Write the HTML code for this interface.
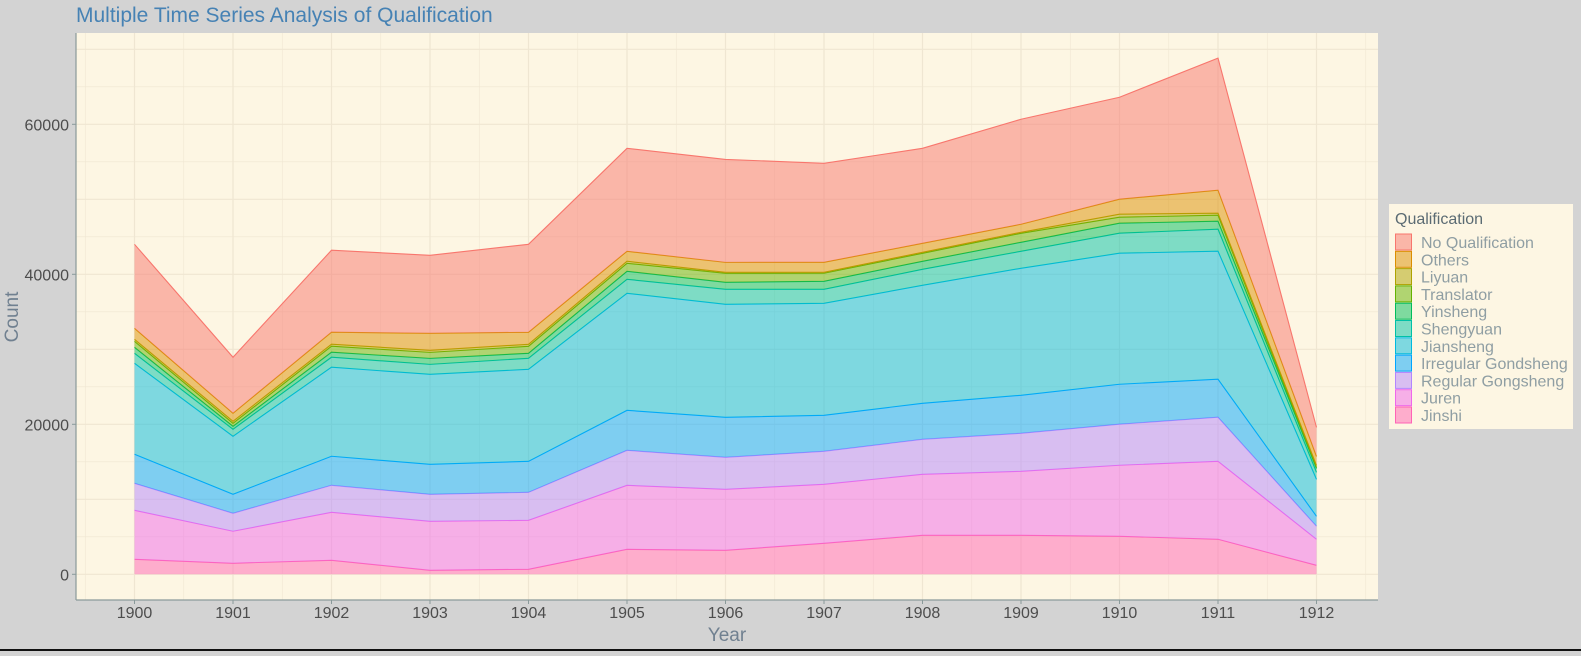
<!DOCTYPE html>
<html><head><meta charset="utf-8"><style>
html,body{margin:0;padding:0;background:#d3d3d3;}
body{width:1581px;height:651px;position:relative;overflow:hidden;font-family:"Liberation Sans",sans-serif;}
</style></head><body>
<svg id="chart" width="1581" height="651" xmlns="http://www.w3.org/2000/svg" font-family="Liberation Sans, sans-serif">
<rect x="0" y="0" width="1581" height="651" fill="#d3d3d3"/>
<line x1="0" y1="650" x2="1581" y2="650" stroke="#111" stroke-width="2"/>
<text x="76" y="22" font-size="21" fill="#4682b4">Multiple Time Series Analysis of Qualification</text>
<rect x="76" y="33" width="1302" height="567" fill="#fdf6e3"/>
<g id="grid"></g>
<g id="areas"></g>
<line x1="76" y1="33" x2="76" y2="600" stroke="#8a9a9a" stroke-width="1.2"/>
<line x1="76" y1="600" x2="1378" y2="600" stroke="#8a9a9a" stroke-width="1.2"/>
<g id="ticks"></g>
<text x="727" y="641" font-size="19" fill="#708090" text-anchor="middle">Year</text>
<text x="18" y="317" font-size="19" fill="#708090" text-anchor="middle" transform="rotate(-90 18 317)">Count</text>
<g id="legend">
<rect x="1389" y="204" width="184" height="225" fill="#fdf6e3"/>
<text x="1395" y="224" font-size="16" fill="#5b6b73">Qualification</text>
</g>
</svg>
<script>
const years = [1900,1901,1902,1903,1904,1905,1906,1907,1908,1909,1910,1911,1912];
const seriesNames = ["Jinshi","Juren","Regular Gongsheng","Irregular Gondsheng","Jiansheng","Shengyuan","Yinsheng","Translator","Liyuan","Others","No Qualification"];
const jinshi     = [2000,1470,1870,530,670,3330,3200,4130,5200,5200,5070,4670,1200];
const juren      = [6530,4270,6400,6530,6530,8530,8130,7870,8130,8530,9470,10400,3470];
const regular    = [3600,2400,3600,3600,3730,4670,4270,4400,4670,5070,5470,5870,1730];
const irregular  = [3870,2530,3870,4000,4130,5330,5330,4800,4800,5070,5330,5070,1330];
const jiansheng  = [12130,7730,11870,12000,12270,15600,15070,14930,15730,16930,17470,17070,4930];
const shengyuan  = [1330,930,1330,1330,1470,1870,2000,1870,2130,2270,2670,2930,930];
const yinsheng   = [800,400,670,800,670,1070,930,1070,1070,1200,1330,1070,530];
const translator = [800,400,800,800,930,1070,1200,1070,1070,1200,800,800,130];
const liyuan     = [270,270,270,270,270,270,130,130,130,130,400,270,270];
const others     = [1470,1070,1600,2270,1600,1330,1330,1330,1200,1070,2000,3070,1200];
const noQual     = [11200,7470,10930,10400,11730,13730,13730,13200,12670,14000,13600,17600,3870];
const yTicks = [0,20000,40000,60000];
const seriesValues = [jinshi,juren,regular,irregular,jiansheng,shengyuan,yinsheng,translator,liyuan,others,noQual];
const colors = ["#FF63B6","#EF67EB","#B385FF","#00A6FF","#00BADE","#00C1A7","#00BD5C","#64B200","#AEA200","#DB8E00","#F8766D"];
const NS="http://www.w3.org/2000/svg";
const xS = y => 134.5 + (y-1900)*98.5;
const yS = v => 574.3 - v*0.0075;
function mk(tag, attrs, parent){const e=document.createElementNS(NS,tag);for(const k in attrs)e.setAttribute(k,attrs[k]);parent.appendChild(e);return e;}
const grid=document.getElementById('grid');
for(let yr=1899.5; yr<=1912.5; yr+=0.5){
  const x=xS(yr); if(x<76||x>1378) continue;
  const g=mk('line',{x1:x,x2:x,y1:33,y2:600,stroke:'#efe6d2','stroke-width':Number.isInteger(yr)?1.2:0.6},grid);
  
  
}
for(let v=-5000; v<=70000; v+=5000){
  const y=yS(v); if(y<33||y>600) continue;
  const g=mk('line',{x1:76,x2:1378,y1:y,y2:y,stroke:'#efe6d2','stroke-width':v%10000===0?1.2:0.6},grid);
  
  
}
const areas=document.getElementById('areas');
let base=years.map(()=>0);
seriesValues.forEach((vals,i)=>{
  const top=base.map((b,j)=>b+vals[j]);
  let d='M'+years.map((yr,j)=>xS(yr)+','+yS(top[j])).join('L');
  for(let j=years.length-1;j>=0;j--) d+='L'+xS(years[j])+','+yS(base[j]);
  d+='Z';
  const p=mk('path',{d:d,fill:colors[i],'fill-opacity':0.5,stroke:'none'},areas);
  
  
  const l=mk('polyline',{points:years.map((yr,j)=>xS(yr)+','+yS(top[j])).join(' '),fill:'none',stroke:colors[i],'stroke-width':1.1},areas);
  
  
  base=top;
});
const ticks=document.getElementById('ticks');
yTicks.forEach(v=>{
  const y=yS(v);
  mk('line',{x1:72,x2:76,y1:y,y2:y,stroke:'#8a9a9a'},ticks);
  const t=mk('text',{x:69,y:y+6,'font-size':16,fill:'#4d4d4d','text-anchor':'end'},ticks);
  t.textContent=v;
  
  
});
years.forEach(yr=>{
  const x=xS(yr);
  mk('line',{x1:x,x2:x,y1:600,y2:604,stroke:'#8a9a9a'},ticks);
  const t=mk('text',{x:x,y:618,'font-size':16,fill:'#4d4d4d','text-anchor':'middle'},ticks);
  t.textContent=yr;
  
  
});
const lg=document.getElementById('legend');
for(let k=0;k<seriesNames.length;k++){
  const i=seriesNames.length-1-k;
  const y=234+k*17.3;
  const r=mk('rect',{x:1395.5,y:y,width:16,height:16,fill:colors[i],'fill-opacity':0.5,stroke:colors[i],'stroke-width':1},lg);
  
  
  const t=mk('text',{x:1421,y:y+14,'font-size':16,fill:'#8f9ea3'},lg);
  t.textContent=seriesNames[i];
  
  
}
</script>
</body></html>
